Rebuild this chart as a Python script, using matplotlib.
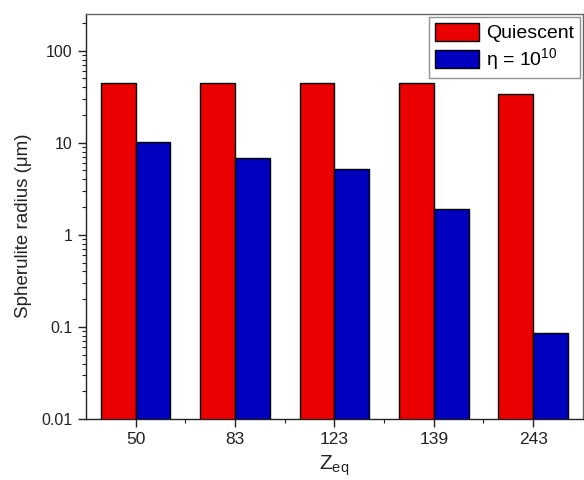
import matplotlib
matplotlib.use("Agg")
import matplotlib.pyplot as plt
import numpy as np
from matplotlib.ticker import LogLocator, FixedLocator, NullFormatter

plt.rcParams['font.family'] = ['Liberation Sans', 'DejaVu Sans']
plt.rcParams['mathtext.default'] = 'regular'

categories = ["50", "83", "123", "139", "243"]
quiescent = [45, 45, 45, 45, 34]
eta_1e10 = [10.1, 6.9, 5.2, 1.9, 0.086]

red = '#EB0000'
blue = '#0000BE'
ink = '#222222'

fig = plt.figure(figsize=(5.84, 4.80), dpi=100)
ax = fig.add_axes([0.147, 0.127, 0.851, 0.844])

x = np.arange(len(categories))
w = 0.35
ax.bar(x - w / 2, quiescent, width=w, color=red, edgecolor='black', linewidth=1.0,
       label='Quiescent', zorder=2)
ax.bar(x + w / 2, eta_1e10, width=w, color=blue, edgecolor='black', linewidth=1.0,
       label=r'η = 10$^{10}$', zorder=2)

ax.set_yscale('log')
ax.set_ylim(0.01, 250)
ax.set_xlim(-0.5, len(categories) - 0.5)

ax.set_yticks([0.01, 0.1, 1, 10, 100])
ax.set_yticklabels(['0.01', '0.1', '1', '10', '100'])
ax.yaxis.set_minor_locator(LogLocator(base=10, subs=np.arange(2, 10)))
ax.yaxis.set_minor_formatter(NullFormatter())

ax.set_xticks(x)
ax.set_xticklabels(categories)
ax.xaxis.set_minor_locator(FixedLocator(x[:-1] + 0.5))

ax.tick_params(axis='both', which='major', direction='out', length=5.5, width=1.0,
               colors=ink, labelcolor=ink)
ax.tick_params(axis='both', which='minor', direction='out', length=2.8, width=0.8,
               colors=ink)
ax.tick_params(axis='y', which='major', labelsize=11.5, pad=4)
ax.tick_params(axis='x', which='major', labelsize=12.5, pad=3.5)
ax.tick_params(right=False, top=False)

for side in ['left', 'bottom']:
    ax.spines[side].set_color(ink)
    ax.spines[side].set_linewidth(1.0)
for side in ['top', 'right']:
    ax.spines[side].set_color('#666666')
    ax.spines[side].set_linewidth(1.0)

ax.set_ylabel('Spherulite radius (μm)', fontsize=13.5, color=ink)
ax.yaxis.set_label_coords(-0.108, 0.478)
ax.set_xlabel('Z$_{eq}$', fontsize=15, color=ink, labelpad=5)

leg = ax.legend(loc='upper right', fontsize=14, frameon=True, fancybox=False,
                edgecolor='#777777', handlelength=2.3, handleheight=1.05,
                borderaxespad=0.15, borderpad=0.3, labelspacing=0.2,
                handletextpad=0.35)
leg.get_frame().set_linewidth(1.0)

fig.savefig('out.png', dpi=100)
